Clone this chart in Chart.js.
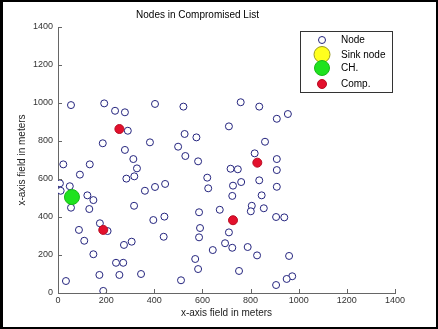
<!DOCTYPE html>
<html>
<head>
<meta charset="utf-8">
<script src="https://cdn.jsdelivr.net/npm/chart.js@4.4.0/dist/chart.umd.min.js"></script>
<style>
  html, body { margin: 0; padding: 0; background: #fff; }
  #wrap { position: relative; width: 438px; height: 329px; }
  #frame { position: absolute; left: 0; top: 0; width: 438px; height: 329px; box-sizing: border-box;
           border: 2px solid #000; border-left-width: 3px; pointer-events: none; }
</style>
</head>
<body>
<div id="wrap">
  <canvas id="chart" width="438" height="329"></canvas>
  <div id="frame"></div>
</div>
<script>
// node positions (meters)
var nodeX = [54, 192, 237, 278, 403, 290, 186, 382, 278, 313, 22, 132, 328, 91, 284, 317, 8, 49, 445, 403,
             361, 11, 122, 147, 521, 759, 836, 909, 955, 710, 526, 575, 499, 860, 529, 582, 817, 909, 909, 717,
             747, 620, 624, 761, 727, 836, 909, 724, 846, 940, 960, 973, 950, 54, 130, 316, 396, 442, 174, 206,
             87, 109, 306, 274, 439, 147, 241, 271, 172, 255, 345, 33, 188, 586, 672, 805, 801, 855, 906, 590,
             710, 586, 694, 724, 788, 643, 827, 570, 582, 752, 511, 906];
var nodeY = [989, 998, 959, 951, 995, 854, 788, 793, 753, 705, 677, 677, 656, 623, 602, 614, 577, 562, 574, 558,
             538, 538, 514, 489, 981, 1004, 981, 917, 942, 877, 837, 819, 770, 796, 721, 693, 735, 705, 647, 654,
             651, 607, 551, 584, 565, 593, 559, 511, 514, 398, 195, 88, 74, 449, 442, 459, 384, 402, 367, 326,
             332, 275, 270, 253, 296, 204, 159, 159, 95, 95, 100, 63, 11, 425, 438, 459, 430, 446, 400, 342,
             319, 293, 262, 238, 242, 226, 198, 179, 126, 116, 67, 42];

// sink node is not visible in the plot, only in the legend
var sinkX = [];
var sinkY = [];

// cluster head
var chX = [58];
var chY = [505];

// compromised nodes
var compX = [255, 188, 828, 727];
var compY = [863, 332, 686, 383];

var axisTicks = [0, 200, 400, 600, 800, 1000, 1200, 1400];
var axisColor = '#666';

function toPoints(xs, ys) {
  var pts = [];
  for (var i = 0; i < xs.length; i++) pts.push({ x: xs[i], y: ys[i] });
  return pts;
}

// inward ticks + the boxed legend inside the plot
var matlabBits = {
  id: 'matlabBits',
  afterDraw: function(chart) {
    var ctx = chart.ctx;
    var xs = chart.scales.x, ys = chart.scales.y;
    var area = chart.chartArea;
    ctx.save();
    ctx.strokeStyle = axisColor;
    ctx.lineWidth = 1;
    ctx.beginPath();
    axisTicks.forEach(function(t) {
      var px = Math.round(xs.getPixelForValue(t)) + 0.5;
      ctx.moveTo(px, area.bottom);
      ctx.lineTo(px, area.bottom - 4);
      var py = Math.round(ys.getPixelForValue(t)) + 0.5;
      ctx.moveTo(area.left, py);
      ctx.lineTo(area.left + 4, py);
    });
    ctx.stroke();

    var bx = 300.5, by = 31.5, bw = 92, bh = 61;
    ctx.fillStyle = '#fff';
    ctx.fillRect(bx, by, bw, bh);
    ctx.strokeStyle = '#333';
    ctx.strokeRect(bx, by, bw, bh);

    var rowY = [40, 54.5, 68, 84];
    ctx.font = '10px "Liberation Sans", Arial, sans-serif';
    ctx.textBaseline = 'middle';
    chart.data.datasets.forEach(function(ds, i) {
      ctx.beginPath();
      ctx.arc(322, rowY[i], ds.pointRadius, 0, Math.PI * 2);
      ctx.fillStyle = ds.backgroundColor;
      ctx.fill();
      ctx.lineWidth = ds.borderWidth;
      ctx.strokeStyle = ds.borderColor;
      ctx.stroke();
      ctx.fillStyle = '#000';
      ctx.fillText(ds.label, 341, rowY[i] + 0.5);
    });
    ctx.restore();
  }
};

var tickFont = { family: '"Liberation Sans", Arial, sans-serif', size: 9 };
var labelFont = { family: '"Liberation Sans", Arial, sans-serif', size: 10, weight: 'normal' };

function plainTick(v) { return String(v); }

new Chart(document.getElementById('chart').getContext('2d'), {
  type: 'scatter',
  data: {
    datasets: [
      { label: 'Node', data: toPoints(nodeX, nodeY), order: 4,
        pointRadius: 3.5, backgroundColor: '#fff', borderColor: '#24247e', borderWidth: 1 },
      { label: 'Sink node', data: toPoints(sinkX, sinkY), order: 3,
        pointRadius: 8, backgroundColor: '#ffff1e', borderColor: '#9a9a20', borderWidth: 1 },
      { label: 'CH.', data: toPoints(chX, chY), order: 2,
        pointRadius: 7.5, backgroundColor: '#1ee21e', borderColor: '#18b818', borderWidth: 1 },
      { label: 'Comp.', data: toPoints(compX, compY), order: 1,
        pointRadius: 4.5, backgroundColor: '#e3102c', borderColor: '#b80c22', borderWidth: 1 }
    ]
  },
  options: {
    responsive: false,
    animation: false,
    layout: { padding: { left: 0, right: 43, top: 0, bottom: 0 } },
    plugins: {
      legend: { display: false },
      tooltip: { enabled: false },
      title: {
        display: true,
        text: 'Nodes in Compromised List',
        color: '#000',
        font: labelFont,
        padding: { top: 9, bottom: 6 }
      }
    },
    elements: { point: { hoverRadius: 0 } },
    scales: {
      x: {
        type: 'linear', min: 0, max: 1400,
        afterBuildTicks: function(s) { s.ticks = axisTicks.map(function(v) { return { value: v }; }); },
        afterFit: function(s) { s.height = 36; s.paddingLeft = 0; s.paddingRight = 0; },
        grid: { display: false, drawTicks: false },
        border: { display: true, color: axisColor, width: 1 },
        ticks: { padding: 2, color: '#333', font: tickFont, maxRotation: 0, callback: plainTick },
        title: { display: true, text: 'x-axis field in meters', color: '#222', font: labelFont,
                 padding: { top: 0, bottom: 10 } }
      },
      y: {
        type: 'linear', min: 0, max: 1400,
        afterBuildTicks: function(s) { s.ticks = axisTicks.map(function(v) { return { value: v }; }); },
        afterFit: function(s) { s.width = 58; s.paddingTop = 0; s.paddingBottom = 0; },
        grid: { display: false, drawTicks: false },
        border: { display: true, color: axisColor, width: 1 },
        ticks: { padding: 5, color: '#333', font: tickFont, callback: plainTick },
        title: { display: true, text: 'x-axis field in meters', color: '#222', font: labelFont,
                 padding: { top: 16, bottom: 0 } }
      }
    }
  },
  plugins: [matlabBits]
});
</script>
</body>
</html>
